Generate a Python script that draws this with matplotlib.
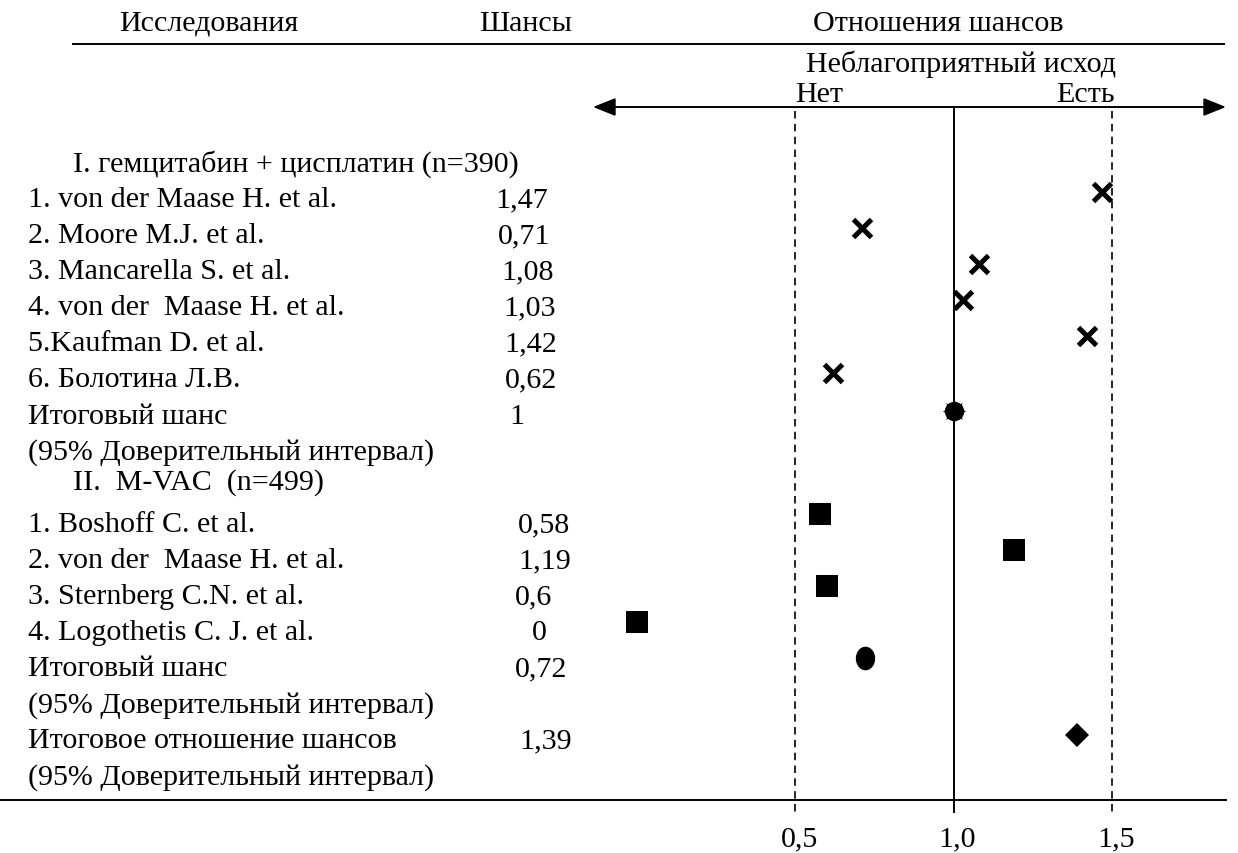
import matplotlib
matplotlib.use("Agg")
import matplotlib.pyplot as plt
from matplotlib.path import Path
from matplotlib.transforms import Affine2D

# ---------------- data ----------------
header_study = "Исследования"
header_odds = "Шансы"
header_or = "Отношения шансов"
outcome_title = "Неблагоприятный исход"
outcome_no = "Нет"
outcome_yes = "Есть"

group1_title = "I. гемцитабин + цисплатин (n=390)"
studies_1 = ["1. von der Maase H. et al.", "2. Moore M.J. et al.",
             "3. Mancarella S. et al.", "4. von der  Maase H. et al.",
             "5.Kaufman D. et al.", "6. Болотина Л.В."]
odds_1 = [1.47, 0.71, 1.08, 1.03, 1.42, 0.62]
pooled_1 = 1.0

group2_title = "II.  M-VAC  (n=499)"
studies_2 = ["1. Boshoff C. et al.", "2. von der  Maase H. et al.",
             "3. Sternberg C.N. et al.", "4. Logothetis C. J. et al."]
odds_2 = [0.58, 1.19, 0.6, 0]
pooled_2 = 0.72

pooled_label = "Итоговый шанс"
ci_label = "(95% Доверительный интервал)"
overall_label = "Итоговое отношение шансов"
overall_or = 1.39

ref_lines = [0.5, 1.0, 1.5]
tick_labels = ["0,5", "1,0", "1,5"]

# ---------------- layout ----------------
W, H = 1238, 854
X_ONE, PX_PER_UNIT = 953.5, 317.0


def px(x):
    """pixel column -> odds-ratio data coordinate"""
    return 1 + (x - X_ONE) / PX_PER_UNIT


def fmt(v):
    return f"{v:g}".replace(".", ",")


plt.rcParams["font.family"] = ["Liberation Serif", "DejaVu Serif"]
FS = 21.6

fig = plt.figure(figsize=(W / 100, H / 100), dpi=100)
ax = fig.add_axes([0, 0, 1, 1])
ax.set_xlim(px(0), px(W))
ax.set_ylim(H, 0)
ax.axis("off")


def txt(x, y, s, ha="left"):
    ax.text(px(x), y, s, ha=ha, va="baseline", fontsize=FS)


# headers
txt(209, 31, header_study, "center")
txt(526, 31, header_odds, "center")
txt(938, 31, header_or, "center")
ax.plot([px(73), px(1224)], [45, 45], color="black", lw=1.4)
txt(961, 72, outcome_title, "center")
txt(819, 102, outcome_no, "center")
txt(1085, 102, outcome_yes, "center")

# double arrow
ax.annotate("", xy=(px(593), 108), xytext=(px(1226), 108),
            arrowprops=dict(arrowstyle="<|-|>,head_length=0.55,head_width=0.22",
                            color="black", lw=1.4, mutation_scale=25,
                            shrinkA=0, shrinkB=0))

# reference lines
for r in ref_lines:
    if r == 1.0:
        ax.plot([r, r], [108, 813], color="black", lw=1.4)
    else:
        ax.plot([r, r], [112, 815], color="black", lw=1.2, ls=(0, (4.5, 3.2)))
ax.plot([px(0), px(1226)], [801, 801], color="black", lw=1.4)
for r, t in zip(ref_lines, tick_labels):
    ax.text(r + 4 / PX_PER_UNIT, 846, t, ha="center", va="baseline", fontsize=FS)

# rows (y = centre of digits)
STEP = 36.1
Y0 = 197
BASE = 10      # baseline below digit centre
MOFF = -5      # marker centre relative to digit centre
LX = 28
val_x1 = [495, 498, 501, 503, 504, 505]
val_x2 = [518, 518, 515, 532]

txt(73, 172, group1_title)
for i, (s, v) in enumerate(zip(studies_1, odds_1)):
    y = Y0 + STEP * i
    txt(LX, y + BASE, s)
    txt(val_x1[i], y + BASE, fmt(v))
    ax.plot(v, y + MOFF + 1, marker="x", color="black", ms=13, mew=3.6)

y = Y0 + STEP * 6
txt(LX, y + BASE, pooled_label)
txt(509, y + BASE, fmt(pooled_1))
ax.plot(pooled_1, y - 2, marker=(8, 1, 0), color="black", ms=17, mew=0)
ax.plot(pooled_1, y - 2, marker="o", color="black", ms=14, mew=0)
txt(LX, Y0 + STEP * 7 + BASE, ci_label)

txt(73, 490, group2_title)
for i, (s, v) in enumerate(zip(studies_2, odds_2)):
    y = Y0 + STEP * (9 + i)
    txt(LX, y + BASE, s)
    txt(val_x2[i], y + BASE, fmt(v))
    ax.plot(v, y + MOFF - 2, marker="s", color="black", ms=16.5, mew=0)

ellipse = Path.unit_circle().transformed(Affine2D().scale(0.82, 1.0))
y = Y0 + STEP * 13
txt(LX, y + BASE, pooled_label)
txt(515, y + BASE, fmt(pooled_2))
ax.plot(pooled_2, y + MOFF - 2, marker=ellipse, color="black", ms=17, mew=0)
txt(LX, Y0 + STEP * 14 + BASE, ci_label)

y = Y0 + STEP * 15
txt(LX, y + BASE, overall_label)
txt(519, y + BASE, fmt(overall_or))
ax.plot(overall_or, y + MOFF + 2, marker="D", color="black", ms=12.5, mew=0)
txt(LX, Y0 + STEP * 16 + BASE, ci_label)

fig.savefig("out.png", dpi=100)
